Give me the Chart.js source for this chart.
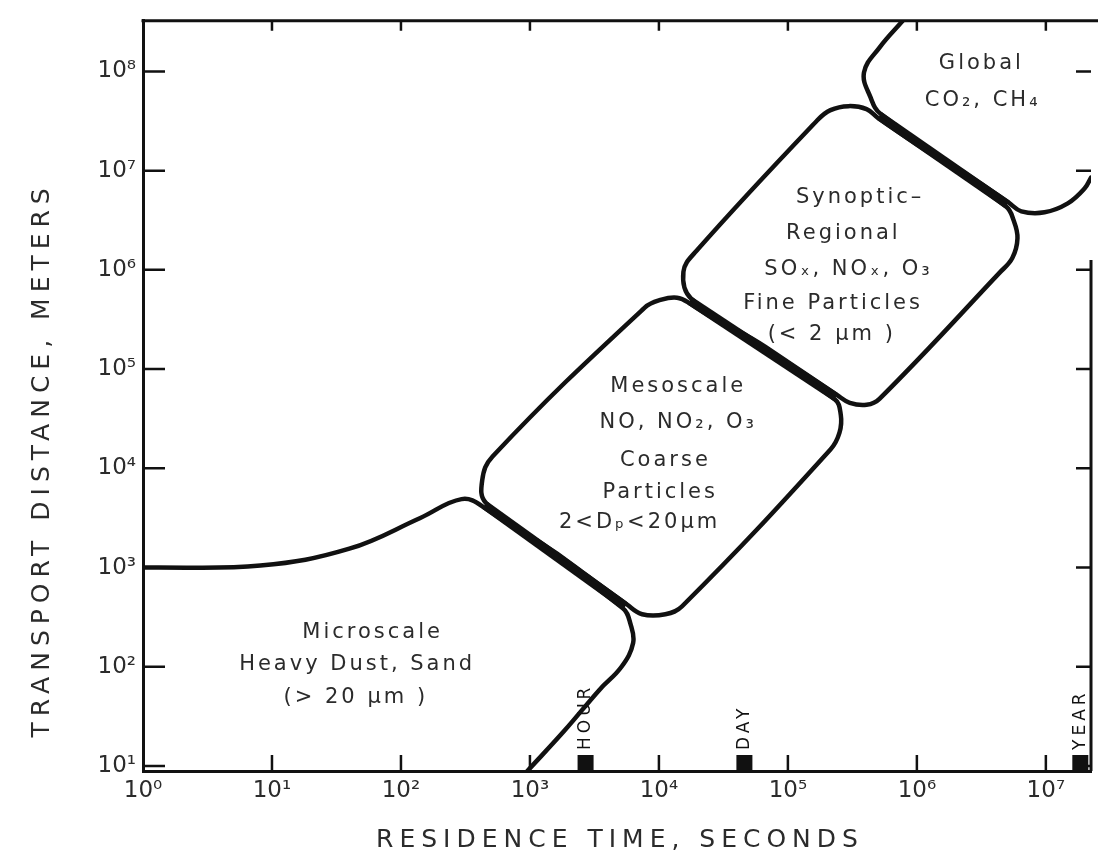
<!DOCTYPE html>
<html>
<head>
<meta charset="utf-8">
<title>Transport distance vs residence time</title>
<script src="https://cdn.jsdelivr.net/npm/chart.js@4.4.0/dist/chart.umd.min.js"></script>
<style>
    html, body { margin: 0; padding: 0; background: #fff; }
    #chart { display: block; }
</style>
</head>
<body>
<canvas id="chart" width="1098" height="859"></canvas>
<script>
// Axis ranges and decade ticks, all as powers of ten
const xRange = [0, 7.35];
const yRange = [0.95, 8.51];
const xTickExp = [0, 1, 2, 3, 4, 5, 6, 7];
const yTickExp = [1, 2, 3, 4, 5, 6, 7, 8];

// Region outlines: [log10 seconds, log10 meters]
const microscale = [
    [0.00, 3.00], [0.91, 3.02], [1.60, 3.19], [2.15, 3.50], [2.47, 3.69], [2.64, 3.61],
    [3.72, 2.59], [3.78, 2.43], [3.80, 2.24], [3.71, 2.00], [3.54, 1.77], [3.27, 1.36],
    [2.98, 0.95]
];
const mesoscale = [
    [3.21, 3.14], [2.66, 3.65], [2.63, 3.88], [2.71, 4.12], [3.89, 5.62], [4.02, 5.70],
    [4.14, 5.72], [4.23, 5.67], [5.36, 4.70], [5.41, 4.54], [5.40, 4.36], [5.33, 4.19],
    [4.18, 2.61], [4.05, 2.53], [3.87, 2.53], [3.75, 2.63], [3.21, 3.14]
];
const synoptic = [
    [4.82, 5.23], [5.38, 4.74], [5.48, 4.66], [5.61, 4.64], [5.71, 4.70], [6.64, 5.97],
    [6.74, 6.12], [6.78, 6.32], [6.75, 6.50], [6.69, 6.64], [5.70, 7.53], [5.61, 7.62],
    [5.47, 7.65], [5.33, 7.61], [5.23, 7.51], [4.29, 6.19], [4.19, 5.98], [4.25, 5.71],
    [4.82, 5.23]
];
const globalScale = [
    [5.89, 8.51], [5.71, 8.24], [5.59, 7.99], [5.64, 7.74], [5.72, 7.57], [6.71, 6.68],
    [6.81, 6.59], [6.99, 6.58], [7.17, 6.67], [7.30, 6.82], [7.35, 6.93]
];

// Edges shared by two neighbouring regions (drawn heavy)
const sharedEdges = [
    [[2.65, 3.63], [3.74, 2.61]],
    [[4.24, 5.69], [5.37, 4.72]],
    [[5.71, 7.55], [6.70, 6.66]]
];

// Time marks on the residence time axis (seconds, where they sit in the figure)
const timeMarks = [['HOUR', 2700], ['DAY', 46000], ['YEAR', 1.85e7]];

// Text inside the regions: [line, log10 seconds, log10 meters]
const regionText = [
    ['Microscale', 1.78, 2.35],
    ['Heavy Dust, Sand', 1.66, 2.02],
    ['(> 20 μm )', 1.65, 1.69],
    ['Mesoscale', 4.15, 4.82],
    ['NO, NO₂, O₃', 4.15, 4.46],
    ['Coarse', 4.05, 4.08],
    ['Particles', 4.01, 3.76],
    ['2<Dₚ<20μm', 3.85, 3.45],
    ['Synoptic–', 5.56, 6.73],
    ['Regional', 5.43, 6.37],
    ['SOₓ, NOₓ, O₃', 5.47, 6.00],
    ['Fine Particles', 5.35, 5.66],
    ['(< 2 μm )', 5.34, 5.35],
    ['Global', 6.50, 8.08],
    ['CO₂, CH₄', 6.51, 7.71]
];

const INK = '#111';
const TEXT = '#2b2b2b';
const FONT = "'DejaVu Sans', sans-serif";
const SUP = ['⁰', '¹', '²', '³', '⁴', '⁵', '⁶', '⁷', '⁸', '⁹'];

function power(v) {
    const e = String(Math.round(Math.log10(v)));
    return '10' + [...e].map(d => SUP[d]).join('');
}

function toPoints(arr) {
    return arr.map(([a, b]) => ({ x: Math.pow(10, a), y: Math.pow(10, b) }));
}

const outline = {
    borderColor: INK,
    borderWidth: 4.5,
    pointRadius: 0,
    fill: false,
    tension: 0.4,
    borderCapStyle: 'round',
    borderJoinStyle: 'round'
};

const heavy = {
    borderColor: INK,
    borderWidth: 9,
    pointRadius: 0,
    fill: false,
    tension: 0,
    borderCapStyle: 'butt'
};

// Frame, inward ticks, time marks, labels and axis titles
const decorations = {
    id: 'decorations',
    afterDraw(chart) {
        const { ctx, chartArea: area, scales: { x, y } } = chart;
        ctx.save();
        ctx.strokeStyle = INK;
        ctx.fillStyle = INK;

        // top frame and the lower part of the right frame
        ctx.lineWidth = 3;
        ctx.beginPath();
        ctx.moveTo(area.left - 1.5, area.top);
        ctx.lineTo(chart.width, area.top);
        ctx.moveTo(area.right, y.getPixelForValue(Math.pow(10, 6.1)));
        ctx.lineTo(area.right, area.bottom);
        ctx.stroke();

        // inward tick marks
        ctx.lineWidth = 2.5;
        ctx.beginPath();
        yTickExp.forEach(e => {
            const py = y.getPixelForValue(Math.pow(10, e));
            ctx.moveTo(area.left, py);
            ctx.lineTo(area.left + 22, py);
            ctx.moveTo(area.right, py);
            ctx.lineTo(area.right - 15, py);
        });
        xTickExp.slice(1).forEach(e => {
            const px = x.getPixelForValue(Math.pow(10, e));
            ctx.moveTo(px, area.bottom);
            ctx.lineTo(px, area.bottom - 16);
            ctx.moveTo(px, area.top);
            ctx.lineTo(px, area.top + 10);
        });
        ctx.stroke();

        // hour / day / year marks
        ctx.font = '17px ' + FONT;
        ctx.letterSpacing = '4px';
        ctx.textAlign = 'left';
        ctx.textBaseline = 'middle';
        timeMarks.forEach(([name, t]) => {
            const px = x.getPixelForValue(t);
            ctx.fillRect(px - 8, area.bottom - 16, 16, 16);
            ctx.save();
            ctx.translate(px, area.bottom - 21);
            ctx.rotate(-Math.PI / 2);
            ctx.fillText(name, 0, 0);
            ctx.restore();
        });

        // region text
        ctx.fillStyle = TEXT;
        ctx.font = '21px ' + FONT;
        ctx.letterSpacing = '3px';
        ctx.textAlign = 'center';
        regionText.forEach(([line, a, b]) => {
            ctx.fillText(line, x.getPixelForValue(Math.pow(10, a)), y.getPixelForValue(Math.pow(10, b)));
        });

        // axis titles
        ctx.font = '25px ' + FONT;
        ctx.letterSpacing = '6px';
        ctx.fillText('RESIDENCE TIME, SECONDS', (area.left + area.right) / 2 + 3, 840);
        ctx.save();
        ctx.translate(42, (area.top + area.bottom) / 2 + 64);
        ctx.rotate(-Math.PI / 2);
        ctx.fillText('TRANSPORT DISTANCE, METERS', 0, 0);
        ctx.restore();

        ctx.restore();
    }
};

new Chart(document.getElementById('chart').getContext('2d'), {
    type: 'line',
    data: {
        datasets: [
            { label: 'Microscale', data: toPoints(microscale), ...outline },
            { label: 'Mesoscale', data: toPoints(mesoscale), ...outline },
            { label: 'Synoptic-Regional', data: toPoints(synoptic), ...outline },
            { label: 'Global', data: toPoints(globalScale), ...outline },
            ...sharedEdges.map((edge, i) => ({ label: 'shared ' + i, data: toPoints(edge), ...heavy }))
        ]
    },
    options: {
        responsive: false,
        devicePixelRatio: 1,
        animation: false,
        layout: { padding: { top: 20, right: 7, left: 0, bottom: 0 } },
        plugins: {
            legend: { display: false },
            tooltip: { enabled: false }
        },
        scales: {
            x: {
                type: 'logarithmic',
                min: Math.pow(10, xRange[0]),
                max: Math.pow(10, xRange[1]),
                afterBuildTicks: s => { s.ticks = xTickExp.map(e => ({ value: Math.pow(10, e) })); },
                afterFit: s => { s.height = 88; },
                grid: { display: false, drawTicks: false },
                border: { display: true, color: INK, width: 3 },
                ticks: {
                    callback: v => power(v),
                    font: { family: FONT, size: 23 },
                    color: TEXT,
                    padding: 6,
                    maxRotation: 0,
                    autoSkip: false
                }
            },
            y: {
                type: 'logarithmic',
                min: Math.pow(10, yRange[0]),
                max: Math.pow(10, yRange[1]),
                afterBuildTicks: s => { s.ticks = yTickExp.map(e => ({ value: Math.pow(10, e) })); },
                afterFit: s => { s.width = 143; },
                grid: { display: false, drawTicks: false },
                border: { display: true, color: INK, width: 3 },
                ticks: {
                    callback: v => power(v),
                    font: { family: FONT, size: 23 },
                    color: TEXT,
                    padding: 7,
                    autoSkip: false
                }
            }
        }
    },
    plugins: [decorations]
});
</script>
</body>
</html>
